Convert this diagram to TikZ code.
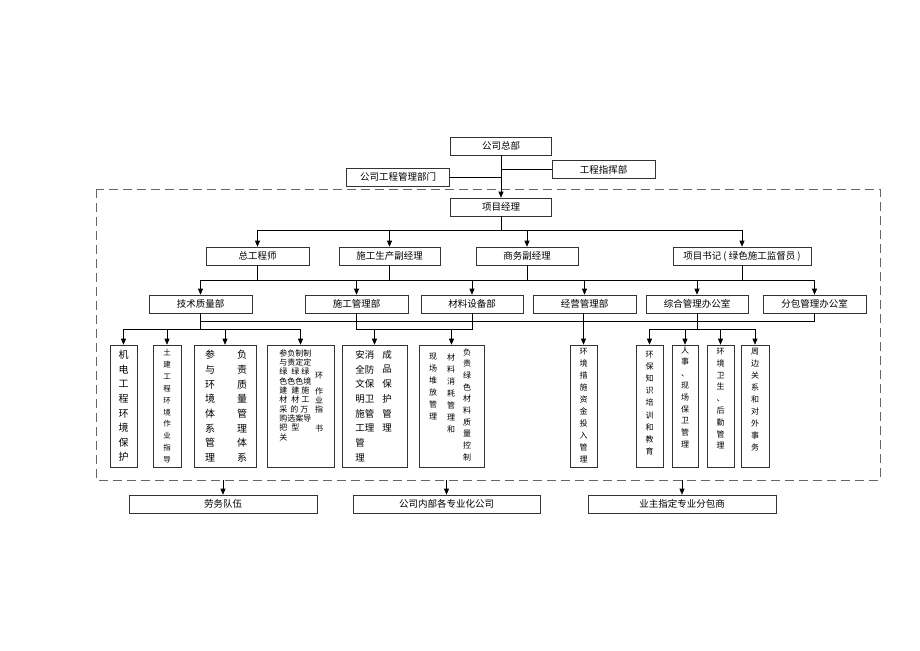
\documentclass[tikz,border=0pt]{standalone}
\usepackage{fontspec}
\setmainfont{Noto Sans CJK SC}
\usetikzlibrary{arrows.meta}

\begin{document}
\begin{tikzpicture}[x=1pt, y=-1pt, line width=0.6pt,
    box/.style = {draw=black!80, minimum height=18, inner sep=0, font=\fontsize{9.5}{11}\selectfont},
    tall/.style = {draw=black!80, minimum height=122, inner sep=0},
    vt/.style = {anchor=north, inner sep=0, align=center},
    arr/.style = {-{Triangle[length=6pt, width=5pt]}}]
\useasboundingbox (0,0) rectangle (920,650);

% company
\node[box, minimum width=101] (zb) at (501,146) {公司总部};
\node[box, minimum width=103] (zhb) at (603.5,169.5) {工程指挥部};
\node[box, minimum width=103] (gcb) at (398,177) {公司工程管理部门};
\draw[black!60, dash pattern=on 9pt off 5pt] (96,189) rectangle (880,480);
\node[box, minimum width=101] (xmjl) at (501,207) {项目经理};
\draw[arr] (zb.south) -- (xmjl.north);
\draw (zhb.west) -- (zhb.west -| zb.south);
\draw (gcb.east) -- (gcb.east -| zb.south);

% managers
\node[box, minimum width=103] (zgcs) at (257.5,256) {总工程师};
\node[box, minimum width=101] (sgfjl) at (389.5,256) {施工生产副经理};
\node[box, minimum width=102] (swfjl) at (527,256) {商务副经理};
\node[box, minimum width=138] (xmsj) at (742,256) {项目书记 ( 绿色施工监督员 )};
\coordinate (bar1) at (501,230);
\draw (xmjl.south) -- (bar1);
\draw (zgcs.north |- bar1) -- (xmsj.north |- bar1);
\foreach \n in {zgcs,sgfjl,swfjl,xmsj}
    \draw[arr] (\n.north |- bar1) -- (\n.north);

% departments
\node[box, minimum width=103] (jszlb) at (200.5,304) {技术质量部};
\node[box, minimum width=103] (sggl) at (356.5,304) {施工管理部};
\node[box, minimum width=102] (clsb) at (472,304) {材料设备部};
\node[box, minimum width=103] (jygl) at (584.5,304) {经营管理部};
\node[box, minimum width=102] (zhgl) at (697,304) {综合管理办公室};
\node[box, minimum width=103] (fbgl) at (814.5,304) {分包管理办公室};
\coordinate (bar2) at (0,280);
\foreach \n in {zgcs,sgfjl,swfjl,xmsj}
    \draw (\n.south) -- (\n.south |- bar2);
\draw (jszlb.north |- bar2) -- (fbgl.north |- bar2);
\foreach \n in {jszlb,sggl,clsb,jygl,zhgl,fbgl}
    \draw[arr] (\n.north |- bar2) -- (\n.north);
\coordinate (bar3) at (0,321);
\draw (jszlb.south |- bar3) -- (fbgl.south |- bar3) -- (fbgl.south);

% duties
\node[tall, minimum width=27] (b1) at (123.5,406) {};
\node[tall, minimum width=28] (b2) at (167,406) {};
\node[tall, minimum width=62] (b3) at (225,406) {};
\node[tall, minimum width=67] (b4) at (300.5,406) {};
\node[tall, minimum width=65] (b5) at (374.5,406) {};
\node[tall, minimum width=65] (b6) at (451.5,406) {};
\node[tall, minimum width=27] (b7) at (583.5,406) {};
\node[tall, minimum width=27] (b8) at (649.5,406) {};
\node[tall, minimum width=26] (b9) at (685,406) {};
\node[tall, minimum width=27] (b10) at (720.5,406) {};
\node[tall, minimum width=28] (b11) at (755,406) {};
\coordinate (bar4) at (0,329);
\draw (jszlb.south) -- (jszlb.south |- bar4);
\draw (b1.north |- bar4) -- (b4.north |- bar4);
\foreach \n in {b1,b2,b3,b4}
    \draw[arr] (\n.north |- bar4) -- (\n.north);
\draw (sggl.south) -- (sggl.south |- bar4) -- (clsb.south |- bar4) -- (clsb.south);
\foreach \n in {b5,b6}
    \draw[arr] (\n.north |- bar4) -- (\n.north);
\draw[arr] (b7.north |- jygl.south) -- (b7.north);
\draw (zhgl.south) -- (zhgl.south |- bar4);
\draw (b8.north |- bar4) -- (b11.north |- bar4);
\foreach \n in {b8,b9,b10,b11}
    \draw[arr] (\n.north |- bar4) -- (\n.north);

% duty texts
\node[vt, font=\fontsize{10}{14.6}\selectfont] (t1) at (123.5,350) {机\\电\\工\\程\\环\\境\\保\\护};
\node[vt, font=\fontsize{7.5}{11.9}\selectfont] (t2) at (167,349) {土\\建\\工\\程\\环\\境\\作\\业\\指\\导};
\node[vt, font=\fontsize{10}{14.7}\selectfont] (t3a) at (210,350) {参\\与\\环\\境\\体\\系\\管\\理};
\node[vt, font=\fontsize{10}{14.7}\selectfont] (t3b) at (242,350) {负\\责\\质\\量\\管\\理\\体\\系};
\foreach \t [count=\i] in {参负制制, 与责定定, 绿\hspace{4pt}绿\hspace{2pt}绿, 色色色境,
    建\hspace{4pt}建\hspace{2pt}施, 材\hspace{4pt}材\hspace{2pt}工, 采\hspace{3pt}的\hspace{2pt}万,
    购选案导, 把\hspace{4pt}型, 关}
    \node[anchor=west, inner sep=0, font=\fontsize{8}{9}\selectfont] (r\i) at (279,344+9.3*\i) {\t};
\foreach \c/\y [count=\i] in {环/376, 作/391, 业/400, 指/409, 书/428}
    \node[inner sep=0, font=\fontsize{8}{9}\selectfont] (h\i) at (319,\y) {\c};
\node[vt, anchor=north west, align=left, font=\fontsize{9.5}{14.7}\selectfont] (t5a) at (355,350)
    {安消\\全防\\文保\\明卫\\施管\\工理\\管\\理};
\node[vt, font=\fontsize{9.5}{14.7}\selectfont] (t5b) at (387,350) {成\\品\\保\\护\\管\\理};
\node[vt, font=\fontsize{8}{12}\selectfont] (t6a) at (433,353) {现\\场\\堆\\放\\管\\理};
\node[vt, font=\fontsize{8}{12}\selectfont] (t6b) at (451,353) {材\\料\\消\\耗\\管\\理\\和};
\node[vt, font=\fontsize{8}{11.7}\selectfont] (t6c) at (467,348) {负\\责\\绿\\色\\材\\料\\质\\量\\控\\制};
\node[vt, font=\fontsize{8}{12}\selectfont] (t7) at (583.5,348) {环\\境\\措\\施\\资\\金\\投\\入\\管\\理};
\node[vt, font=\fontsize{8}{12.1}\selectfont] (t8) at (649.5,351) {环\\保\\知\\识\\培\\训\\和\\教\\育};
\node[vt, font=\fontsize{8}{11.8}\selectfont] (t9) at (685,346) {人\\事\\、\\现\\场\\保\\卫\\管\\理};
\node[vt, font=\fontsize{8}{11.8}\selectfont] (t10) at (720.5,348) {环\\境\\卫\\生\\、\\后\\勤\\管\\理};
\node[vt, font=\fontsize{8}{12}\selectfont] (t11) at (755,348) {周\\边\\关\\系\\和\\对\\外\\事\\务};

% outside teams
\node[box, minimum width=188] (lwdw) at (223,504) {劳务队伍};
\node[box, minimum width=187] (gsnb) at (446.5,504) {公司内部各专业化公司};
\node[box, minimum width=188] (yzzd) at (682,504) {业主指定专业分包商};
\coordinate (fb) at (0,480);
\foreach \n in {lwdw,gsnb,yzzd}
    \draw[arr] (\n.north |- fb) -- (\n.north);
\end{tikzpicture}
\end{document}
